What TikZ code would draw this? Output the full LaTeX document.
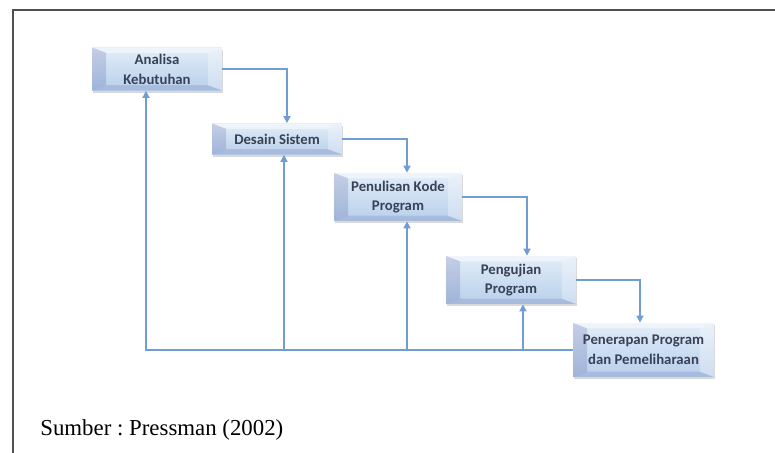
\documentclass[tikz,border=0pt]{standalone}
\usepackage{fontspec}
\setmainfont{Liberation Serif}
\newfontfamily\boxfont{Carlito}
\usetikzlibrary{arrows.meta,shadows}

\definecolor{boxtop}{RGB}{226,237,248}
\definecolor{boxbot}{RGB}{184,207,235}
\definecolor{boxtext}{RGB}{55,66,88}
\definecolor{flowline}{RGB}{112,158,212}
\definecolor{framecol}{RGB}{80,80,80}

\tikzset{
  stage/.style={rectangle, align=center, inner sep=0pt,
    top color=boxtop, bottom color=boxbot,
    font=\boxfont\bfseries\fontsize{8.4}{11.3}\selectfont, text=boxtext,
    drop shadow={shadow xshift=0.8pt, shadow yshift=-1.3pt, opacity=0.3},
    path picture={
      \path (path picture bounding box.north west) coordinate (bnw)
            (path picture bounding box.north east) coordinate (bne)
            (path picture bounding box.south west) coordinate (bsw)
            (path picture bounding box.south east) coordinate (bse);
      \fill[white, opacity=0.45] (bnw) -- (bne) -- ([shift={(-8pt,-3pt)}]bne) -- ([shift={(8pt,-3pt)}]bnw) -- cycle;
      \fill[white, opacity=0.3] (bne) -- (bse) -- ([shift={(-8pt,3pt)}]bse) -- ([shift={(-8pt,-3pt)}]bne) -- cycle;
      \fill[blue!40!black, opacity=0.13] (bnw) -- (bsw) -- ([shift={(8pt,3pt)}]bsw) -- ([shift={(8pt,-3pt)}]bnw) -- cycle;
      \fill[blue!40!black, opacity=0.1] (bsw) -- (bse) -- ([shift={(-8pt,3pt)}]bse) -- ([shift={(8pt,3pt)}]bsw) -- cycle;
    }},
  flow/.style={draw=flowline, line width=0.9pt, -{Triangle[length=4pt,width=4pt]}}
}

\begin{document}
\begin{tikzpicture}[x=0.02cm, y=-0.02cm]
  \useasboundingbox (0,0) rectangle (775,453);
  % frame
  \draw[framecol, line width=1.2pt] (13,453) -- (13,10) -- (775,10);

  % stages
  \node[stage, minimum width=2.6cm, minimum height=0.86cm] (analisa) at (157,69) {Analisa\\Kebutuhan};
  \node[stage, minimum width=2.6cm, minimum height=0.62cm] (desain) at (277,139) {Desain Sistem};
  \node[stage, minimum width=2.56cm, minimum height=0.96cm] (penulisan) at (398,197) {Penulisan Kode\\Program};
  \node[stage, minimum width=2.6cm, minimum height=0.96cm] (pengujian) at (511,280) {Pengujian\\Program};
  \node[stage, minimum width=2.82cm, minimum height=1.08cm] (penerapan) at (643.5,350) {Penerapan Program\\dan Pemeliharaan};

  % forward flow
  \draw[flow] (analisa.east) -| ([xshift=0.2cm]desain.north);
  \draw[flow] (desain.east) -| ([xshift=0.18cm]penulisan.north);
  \draw[flow] (penulisan.east) -| ([xshift=0.32cm]pengujian.north);
  \draw[flow] (pengujian.east) -| ([xshift=-0.07cm]penerapan.north);

  % feedback
  \coordinate (ret2) at (284,350);
  \coordinate (ret3) at (407,350);
  \coordinate (ret4) at (523,350);
  \draw[flow] (penerapan.west) -| ([xshift=-0.22cm]analisa.south);
  \draw[flow] (ret2) -- (ret2 |- desain.south);
  \draw[flow] (ret3) -- (ret3 |- penulisan.south);
  \draw[flow] (ret4) -- (ret4 |- pengujian.south);

  \node[anchor=west, font=\fontsize{13}{15}\selectfont, inner sep=0pt] (sumber) at (40,430) {\frenchspacing Sumber : Pressman (2002)};
\end{tikzpicture}
\end{document}
